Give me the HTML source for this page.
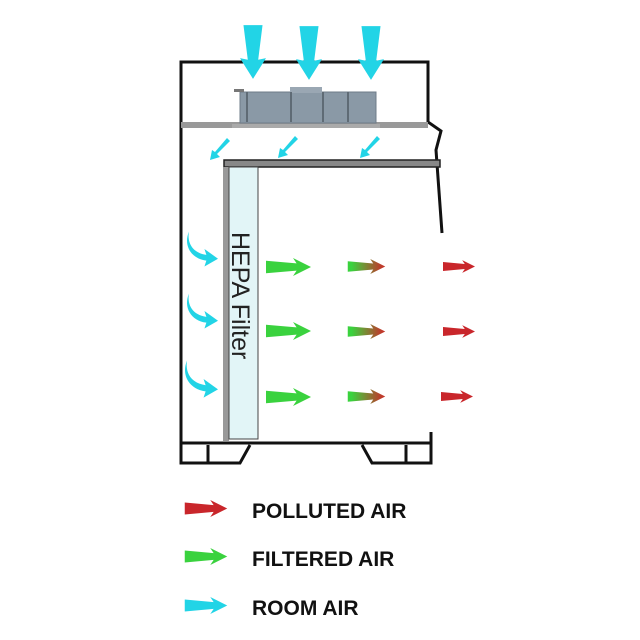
<!DOCTYPE html>
<html><head><style>html,body{margin:0;padding:0;background:#fff}svg{display:block}</style></head>
<body>
<svg width="640" height="640" viewBox="0 0 640 640" xmlns="http://www.w3.org/2000/svg">
<defs>
<linearGradient id="gr" x1="0" x2="50" y1="0" y2="0" gradientUnits="userSpaceOnUse"><stop offset="0.1" stop-color="#3ad23e"/><stop offset="0.9" stop-color="#c0392b"/></linearGradient>
<symbol id="ar" viewBox="0 0 50 20" overflow="visible"><path d="M0,3 L34,6 L30,0 L50,10 L30,20 L34,14 L0,17 Z"/></symbol>
<symbol id="dn" viewBox="0 0 30 62" overflow="visible"><path d="M4,0 L26,0 L21,40 L30,38 L15,62 L0,38 L9,40 Z"/></symbol>
<symbol id="dg" viewBox="0 0 20 22" overflow="visible"><path d="M17,0 L20,3 L7,16 L10,19 L0,22 L2,12 L5,14 Z"/></symbol>
<symbol id="cv" viewBox="0 0 32 36" overflow="visible"><path d="M2,0 C0,12 6,22 20,24 L18,18 L32,28 L18,36 L20,30 C4,28 -4,14 2,0 Z"/></symbol>
</defs>
<g fill="none" stroke="#111" stroke-width="3">
<path d="M181,445 L181,62 L428,62 L428,122 L441,131 L436,150 L442,233"/>
<path d="M181,443 L431,443 L431,432"/>
<path d="M181,443 L181,463 L240,463 L250,445 M208,445 L208,463"/>
<path d="M431,443 L431,463 L372,463 L362,445 M406,445 L406,463"/>
</g>
<rect x="181" y="122" width="247" height="6" fill="#999"/>
<g>
<rect x="240" y="92" width="136" height="31" fill="#8a99a6" stroke="#6f7c88"/>
<rect x="290" y="87" width="32" height="6" fill="#9aa7b3"/>
<rect x="234" y="89" width="10" height="3" fill="#777"/>
<rect x="246" y="92" width="2" height="30" fill="#5f6b75"/>
<rect x="290" y="92" width="2" height="30" fill="#5f6b75"/>
<rect x="322" y="92" width="2" height="30" fill="#5f6b75"/>
<rect x="347" y="92" width="2" height="30" fill="#5f6b75"/>
<rect x="232" y="124" width="148" height="4" fill="#aaa"/>
</g>
<rect x="224" y="160" width="216" height="7" fill="#888" stroke="#222" stroke-width="1.5"/>
<rect x="223" y="167" width="6" height="274" fill="#999"/>
<rect x="229" y="167" width="29" height="272" fill="#e2f5f7" stroke="#444" stroke-width="1"/>
<text transform="translate(232,232) rotate(90)" font-family="Liberation Sans, sans-serif" font-size="25" fill="#222">HEPA Filter</text>
<g fill="#22d4e6">
<use href="#dn" x="240" y="22" width="26" height="60"/>
<use href="#dn" x="296" y="23" width="26" height="60"/>
<use href="#dn" x="358" y="23" width="26" height="60"/>
<use href="#dg" x="210" y="138" width="20" height="22"/>
<use href="#dg" x="278" y="136" width="20" height="22"/>
<use href="#dg" x="360" y="136" width="20" height="22"/>
<use href="#cv" x="187" y="230" width="31" height="38"/>
<use href="#cv" x="187" y="292" width="31" height="38"/>
<use href="#cv" x="185" y="360" width="33" height="38"/>
</g>
<g fill="#3ad23e">
<use href="#ar" x="265" y="258" width="47" height="18"/>
<use href="#ar" x="265" y="322" width="47" height="18"/>
<use href="#ar" x="265" y="388" width="47" height="18"/>
</g>
<g fill="url(#gr)">
<use href="#ar" x="343" y="259" width="47" height="15"/>
<use href="#ar" x="343" y="324" width="47" height="15"/>
<use href="#ar" x="343" y="389" width="47" height="15"/>
</g>
<g fill="#c9262b">
<use href="#ar" x="443" y="259" width="32" height="15"/>
<use href="#ar" x="443" y="324" width="32" height="15"/>
<use href="#ar" x="441" y="389" width="32" height="15"/>
</g>
<use href="#ar" x="181" y="500" width="50" height="17" fill="#c9262b"/>
<use href="#ar" x="181" y="548" width="50" height="17" fill="#3ad23e"/>
<use href="#ar" x="181" y="597" width="50" height="17" fill="#22d4e6"/>
<g font-family="Liberation Sans, sans-serif" font-weight="bold" font-size="21" fill="#111">
<text x="252" y="518">POLLUTED AIR</text>
<text x="252" y="566">FILTERED AIR</text>
<text x="252" y="615">ROOM AIR</text>
</g>
</svg>
</body></html>
